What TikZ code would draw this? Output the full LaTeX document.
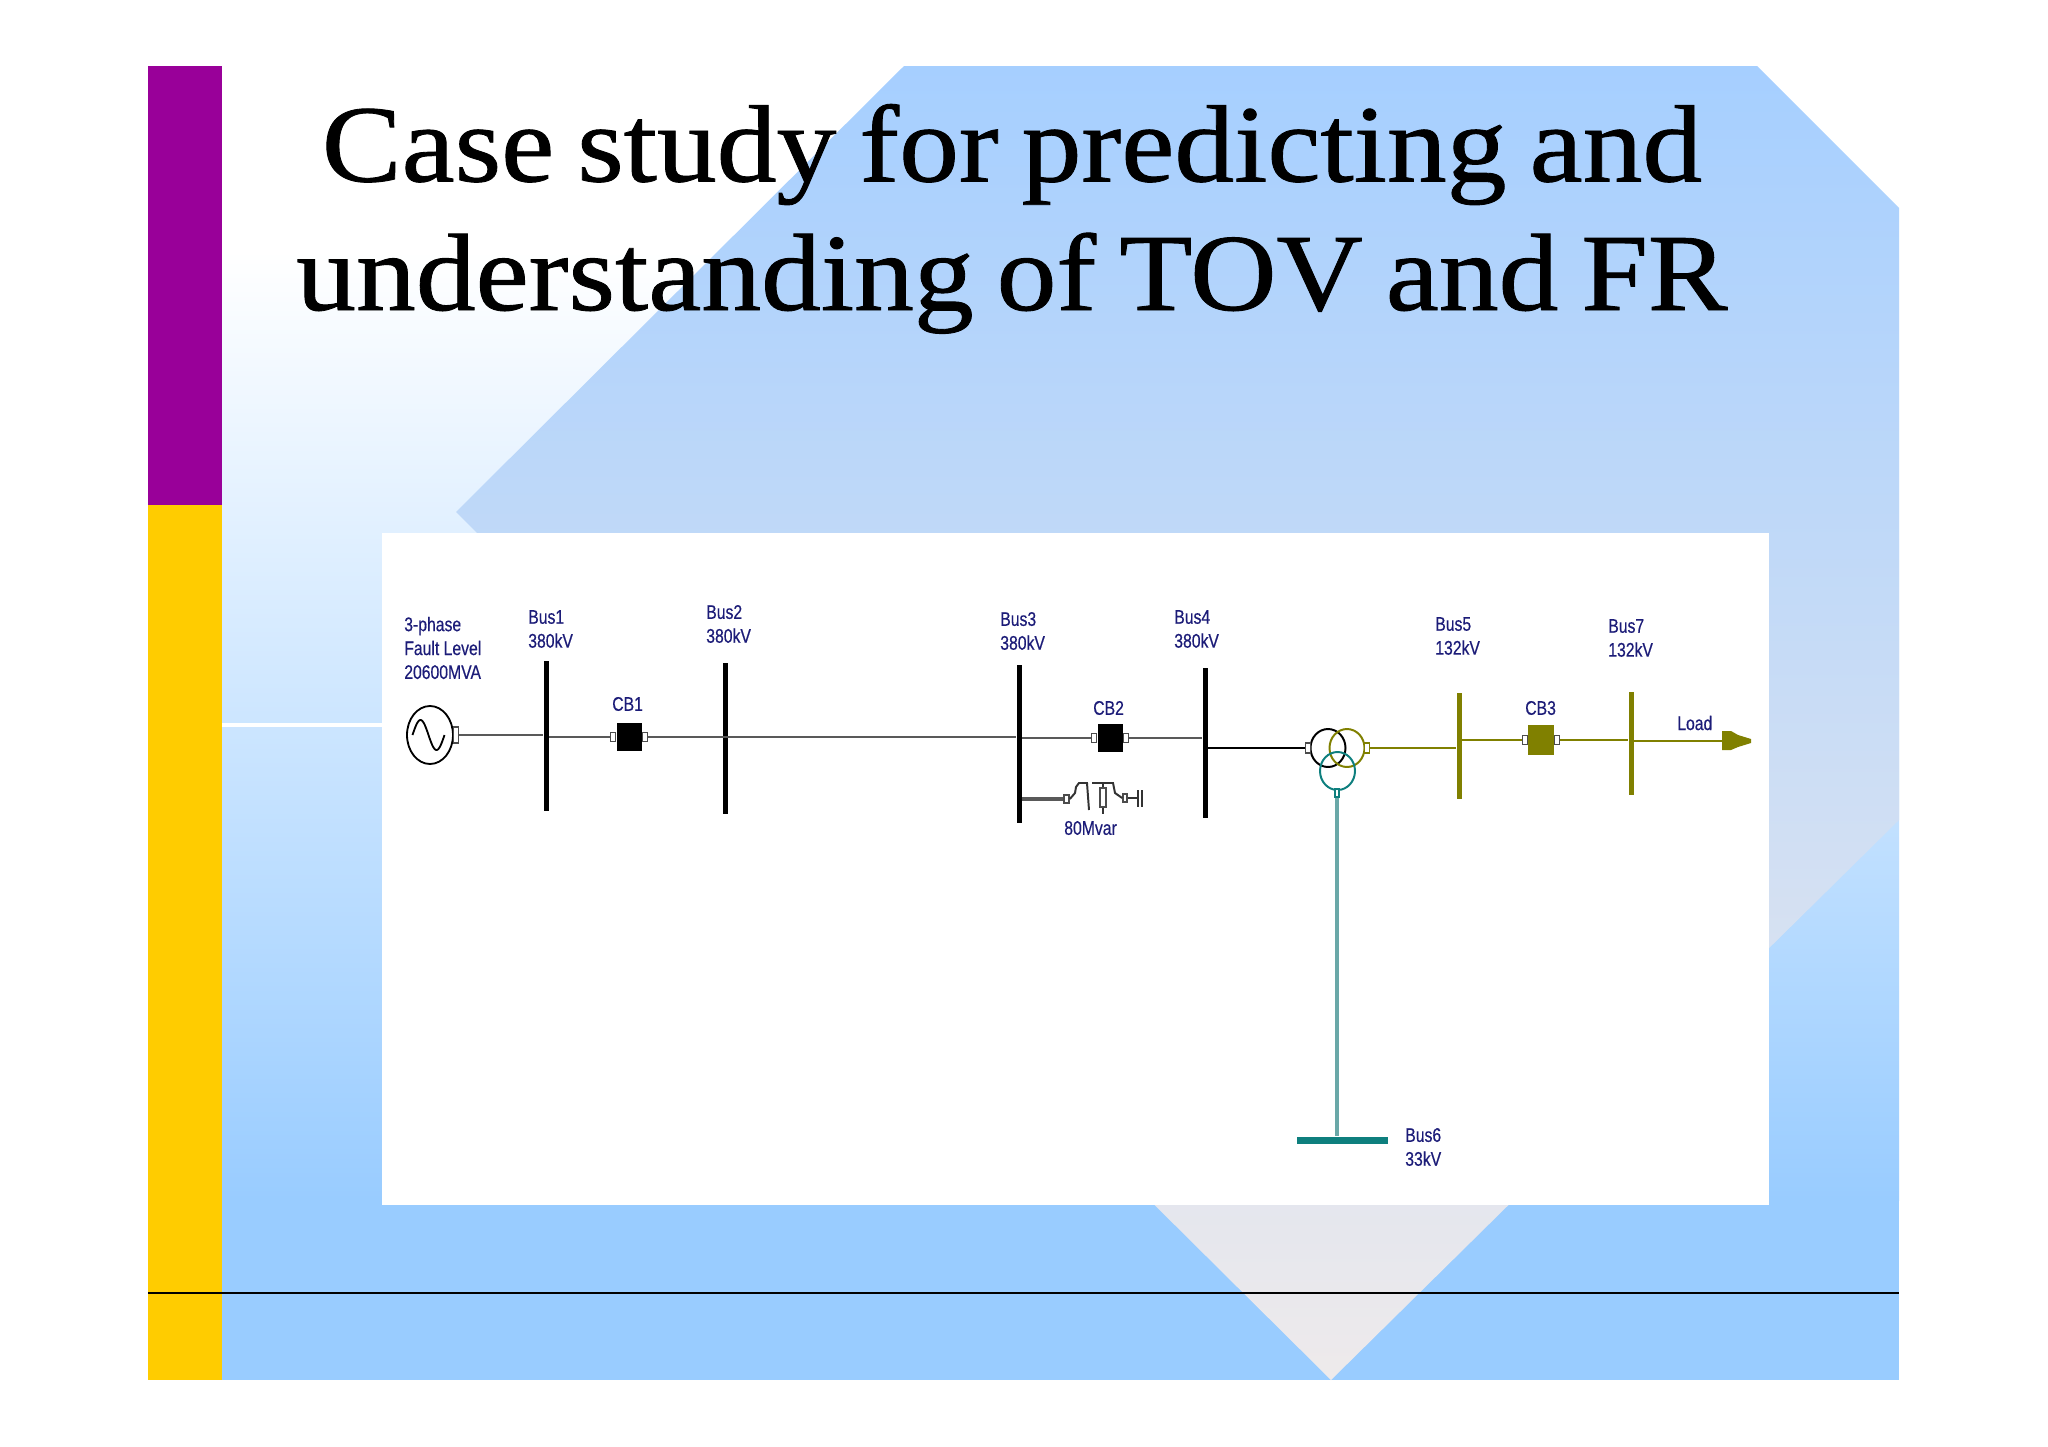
\documentclass[tikz,border=0pt]{standalone}
\usepackage{fontspec}
\usetikzlibrary{shapes.geometric}
\newfontfamily\titlefont[FakeStretch=1.09,FakeBold=0.8,WordSpace=0.77]{Liberation Serif}
\newfontfamily\labelfont[FakeStretch=0.8,FakeBold=0.4]{Liberation Sans}
\definecolor{slideblue}{HTML}{99CCFF}
\definecolor{topblue}{HTML}{A6CFFF}
\definecolor{lowgrey}{HTML}{EEEAEB}
\definecolor{barpurple}{HTML}{990099}
\definecolor{baryellow}{HTML}{FFCC00}
\definecolor{labelnavy}{HTML}{1C1C78}
\definecolor{hvolive}{HTML}{808000}
\definecolor{mvteal}{HTML}{0E7F7E}
\definecolor{paleteal}{HTML}{6AA8A8}
\tikzset{
  bus/.style={rectangle,fill=black,inner sep=0pt,minimum width=5*0.025cm,minimum height=#1*0.025cm},
  olivebus/.style={rectangle,fill=hvolive,inner sep=0pt,minimum width=5*0.025cm,minimum height=#1*0.025cm},
  breaker/.style={rectangle,fill=black,inner sep=0pt,minimum width=25*0.025cm,minimum height=28*0.025cm},
  stub/.style={rectangle,draw=black!70,fill=white,line width=0.8pt,inner sep=0pt,minimum width=5*0.025cm,minimum height=9*0.025cm},
  winding/.style={ellipse,draw=#1,line width=1.4pt,inner sep=0pt,minimum width=35*0.025cm,minimum height=38*0.025cm},
  wire/.style={draw=black!65,line width=1.9pt},
  olivewire/.style={draw=hvolive,line width=1.9pt},
  thinpart/.style={draw=black!80,line width=1.4pt},
  lab/.style={font=\labelfont\fontsize{14}{17}\selectfont,text=labelnavy,align=left,anchor=west,inner sep=0pt}
}
\begin{document}
\begin{tikzpicture}[x=0.025cm,y=-0.025cm]
  \useasboundingbox (0,0) rectangle (2048,1447);
  % slide background
  \fill[white] (0,0) rectangle (2048,1447);
  \shade[top color=white,bottom color=slideblue,draw=none] (222,250) rectangle (1899,1200);
  \fill[slideblue] (222,1199) rectangle (1899,1380);
  \shade[top color=topblue,bottom color=lowgrey,draw=none] (904,66) -- (1757,66) -- (1899,208) -- (1899,820)
    -- (1331,1380) -- (456,512) -- cycle;
  \fill[barpurple] (148,66) rectangle (222,505);
  \fill[baryellow] (148,505) rectangle (222,1380);
  \draw[white,line width=3pt] (222,725) -- (382,725);
  \draw[black,line width=1.6pt] (148,1293) -- (1899,1293);
  \fill[white] (382,533) rectangle (1769,1205);
  % title
  \node[font=\titlefont\fontsize{78}{91.5}\selectfont,align=center,anchor=base] (title) at (1012,310)
    {Case study for predicting and\\understanding of TOV and FR};
  % buses
  \foreach \n/\x/\y/\h in {busa/546/736/150,busb/725/738/151,busc/1019/744/158,busd/1205/743/150}{
    \node[bus=\h] (\n) at (\x,\y) {};
  }
  \foreach \n/\x/\y/\h in {buse/1459/746/106,busg/1631/743/103}{
    \node[olivebus=\h] (\n) at (\x,\y) {};
  }
  \node[rectangle,fill=mvteal,inner sep=0pt,minimum width=91*0.025cm,minimum height=7*0.025cm] (busf) at (1342,1140) {};
  % source
  \node[ellipse,draw=black,line width=1.3pt,inner sep=0pt,minimum width=46*0.025cm,minimum height=58*0.025cm] (src) at (430,735) {};
  \draw[line width=1.3pt,domain=0:360,samples=40,smooth] plot ({412.5+\x/360*32},{735-15*sin(\x)});
  \node[stub,minimum height=16*0.025cm] (srcout) at (456,735) {};
  \draw[wire] (srcout.east) -- (srcout.east -| busa.west);
  % breakers
  \foreach \n/\x/\y in {cba/629/737,cbb/1110/738}{
    \node[breaker] (\n) at (\x,\y) {};
    \node[stub,anchor=east] (\n l) at (\n.west) {};
    \node[stub,anchor=west] (\n r) at (\n.east) {};
  }
  \node[breaker,fill=hvolive,minimum width=26*0.025cm,minimum height=30*0.025cm] (cbc) at (1541,740) {};
  \node[stub,anchor=east] (cbcl) at (cbc.west) {};
  \node[stub,anchor=west] (cbcr) at (cbc.east) {};
  \draw[wire] (busa.east |- cbal.west) -- (cbal.west);
  \draw[wire] (cbar.east) -- (busc.west |- cbar.east);
  \draw[wire] (busc.east |- cbbl.west) -- (cbbl.west);
  \draw[wire] (cbbr.east) -- (busd.west |- cbbr.east);
  % transformer
  \node[winding=black] (wa) at (1328,748) {};
  \node[winding=hvolive] (wb) at (1347,748) {};
  \node[winding=mvteal] (wc) at (1337.5,771) {};
  \node[stub,minimum width=5*0.025cm,minimum height=10*0.025cm] (wain) at (1308,748) {};
  \node[stub,draw=hvolive,minimum width=5*0.025cm,minimum height=10*0.025cm] (wbout) at (1367,748) {};
  \node[stub,draw=mvteal,minimum width=4*0.025cm,minimum height=8*0.025cm] (wcout) at (1337,793) {};
  \draw[black,line width=2pt] (busd.east |- wain.west) -- (wain.west);
  \draw[olivewire] (wbout.east) -- (buse.west |- wbout.east);
  \draw[paleteal,line width=2.4pt] (wcout.south) -- (wcout.south |- busf.north);
  \draw[olivewire] (buse.east |- cbcl.west) -- (cbcl.west);
  \draw[olivewire] (cbcr.east) -- (busg.west |- cbcr.east);
  % load
  \coordinate (loadin) at (1722,741);
  \draw[olivewire] (busg.east |- loadin) -- (loadin);
  \fill[hvolive] (1722,731) -- (1731,731) -- (1738,735) -- (1751,739) -- (1751,743) -- (1738,747) -- (1731,750) -- (1722,750) -- cycle;
  % shunt reactor
  \node[stub,fill=white,line width=1.2pt,minimum width=5*0.025cm,minimum height=8*0.025cm] (rin) at (1066.5,799) {};
  \node[stub,line width=1.4pt,minimum width=6*0.025cm,minimum height=19*0.025cm] (rcore) at (1103,797.5) {};
  \node[stub,line width=1.2pt,minimum width=4*0.025cm,minimum height=8*0.025cm] (rout) at (1125,798) {};
  \coordinate (gnd) at (1138,798);
  \draw[wire,line width=2.4pt] (busc.east |- rin.west) -- (rin.west);
  \draw[thinpart] (rin.east) -- (1075,793) -- (1076,787) -- (1079,783) -- (1087,783) -- (1089,810);
  \draw[thinpart] (1092,783) -- (1113,783) -- (1115,793) -- (rout.west);
  \draw[thinpart] (rcore.north) -- (1103,783);
  \draw[thinpart,line width=2pt] (rcore.south) -- ++(0,6);
  \draw[thinpart] (rout.east) -- (gnd);
  \draw[thinpart] (gnd) ++(0,-8) -- ++(0,17);
  \draw[thinpart] (1142,790) -- (1142,807);
  % labels
  \node[lab] (lsrc) at (404,648) {3-phase\\Fault Level\\20600MVA};
  \node[lab] (lbusa) at (528,629) {Bus1\\380kV};
  \node[lab] (lbusb) at (706,624) {Bus2\\380kV};
  \node[lab] (lbusc) at (1000,631) {Bus3\\380kV};
  \node[lab] (lbusd) at (1174,629) {Bus4\\380kV};
  \node[lab] (lbuse) at (1435,636) {Bus5\\132kV};
  \node[lab] (lbusg) at (1608,638) {Bus7\\132kV};
  \node[lab] (lbusf) at (1405,1147) {Bus6\\33kV};
  \node[lab] (lcba) at (612,704) {CB1};
  \node[lab] (lcbb) at (1093,708) {CB2};
  \node[lab] (lcbc) at (1525,708) {CB3};
  \node[lab] (lload) at (1677,723) {Load};
  \node[lab] (lreact) at (1064,828) {80Mvar};
\end{tikzpicture}
\end{document}
